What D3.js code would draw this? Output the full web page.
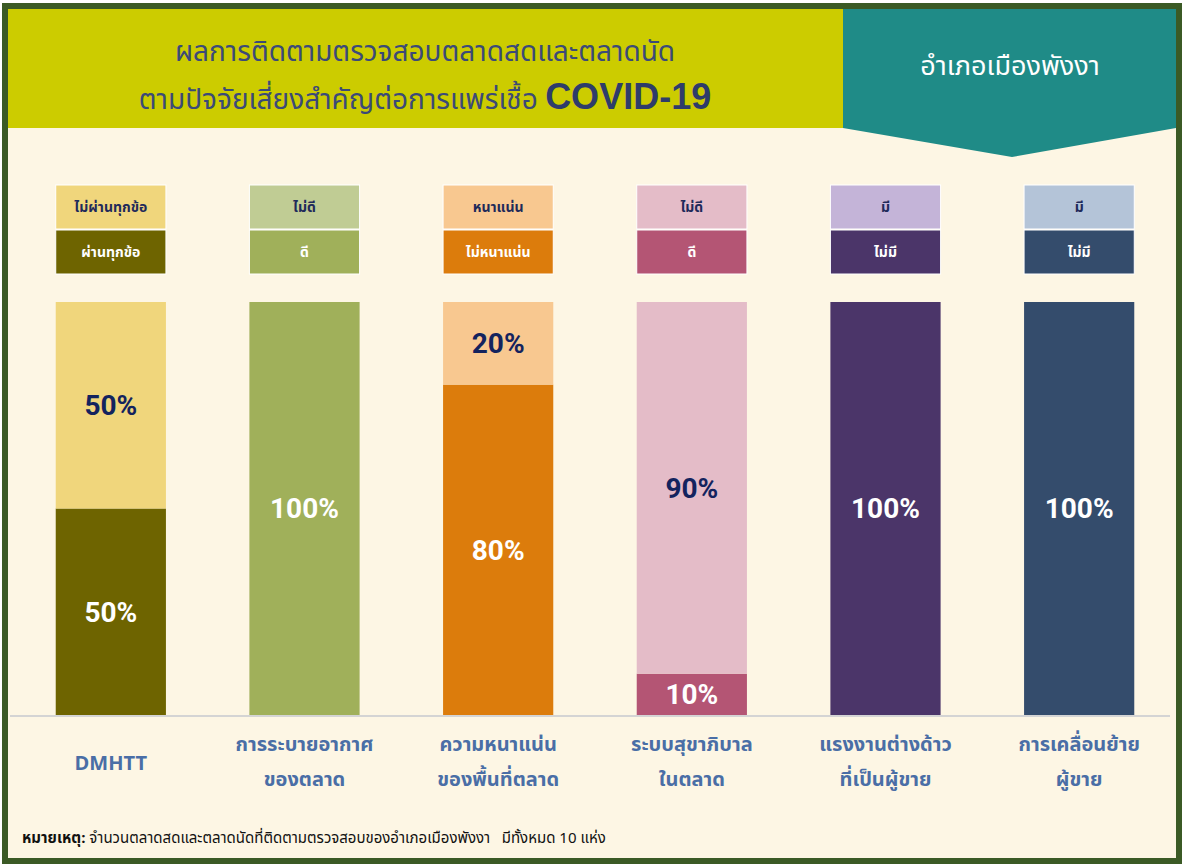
<!DOCTYPE html>
<html>
<head>
<meta charset="utf-8">
<script src="https://cdn.jsdelivr.net/npm/d3@7"></script>
<style>
  body { margin: 0; background: #ffffff; }
  svg { display: block; }
  text { white-space: pre; }
</style>
</head>
<body>
<div class="chart"></div>
<script>
var svgWidth = 1184;
var svgHeight = 866;

// categories (two lines each)
var categories = ["DMHTT", "การระบายอากาศ", "ความหนาแน่น", "ระบบสุขาภิบาล", "แรงงานต่างด้าว", "การเคลื่อนย้าย"];
var categoryLines = [["DMHTT"], ["การระบายอากาศ", "ของตลาด"], ["ความหนาแน่น", "ของพื้นที่ตลาด"],
  ["ระบบสุขาภิบาล", "ในตลาด"], ["แรงงานต่างด้าว", "ที่เป็นผู้ขาย"], ["การเคลื่อนย้าย", "ผู้ขาย"]];

// bottom (dark) segment and top (light) segment, percent
var bottomValues = [50, 100, 80, 10, 100, 100];
var topValues = [50, 0, 20, 90, 0, 0];

// legend labels
var bottomNames = ["ผ่านทุกข้อ", "ดี", "ไม่หนาแน่น", "ดี", "ไม่มี", "ไม่มี"];
var topNames = ["ไม่ผ่านทุกข้อ", "ไม่ดี", "หนาแน่น", "ไม่ดี", "มี", "มี"];

var darkColors = ["#6e6400", "#a0b05a", "#dc7c0c", "#b45574", "#4b3569", "#344c6c"];
var lightColors = ["#f0d67c", "#c0cc94", "#f8c890", "#e4bcc8", "#c4b4d8", "#b4c4d8"];

var thaiFont = "'Noto Sans Thai', 'Noto Sans', 'DejaVu Sans', sans-serif";
var numFont = "'Liberation Sans Narrow', 'Roboto', sans-serif";

var svg = d3.select(".chart")
  .append("svg")
  .attr("width", svgWidth)
  .attr("height", svgHeight);

// frame
svg.append("rect")
  .attr("x", 0).attr("y", 0)
  .attr("width", svgWidth).attr("height", svgHeight)
  .attr("fill", "#ffffff");
svg.append("rect")
  .attr("x", 5).attr("y", 6)
  .attr("width", 1174).attr("height", 855)
  .attr("fill", "#fdf6e4")
  .attr("stroke", "#3b5a25")
  .attr("stroke-width", 6);

// title banner
svg.append("rect")
  .attr("x", 8).attr("y", 9)
  .attr("width", 836).attr("height", 119)
  .attr("fill", "#cccc00");
svg.append("path")
  .attr("d", "M843,9 L1176,9 L1176,128 L1012,157 L843,128 Z")
  .attr("fill", "#1f8b87");

svg.append("text")
  .attr("x", 425).attr("y", 61)
  .attr("text-anchor", "middle")
  .style("font-family", thaiFont)
  .style("font-size", "28px")
  .style("fill", "#3b4a78")
  .text("ผลการติดตามตรวจสอบตลาดสดและตลาดนัด");

var t2 = svg.append("text")
  .attr("x", 425).attr("y", 109)
  .attr("text-anchor", "middle")
  .style("font-family", thaiFont)
  .style("font-size", "28px")
  .style("fill", "#3b4a78");
t2.append("tspan").text("ตามปัจจัยเสี่ยงสำคัญต่อการแพร่เชื้อ ");
t2.append("tspan")
  .style("font-family", "'Liberation Sans', Arial, sans-serif")
  .style("font-weight", "bold")
  .style("font-size", "36px")
  .style("fill", "#2e3c6a")
  .text("COVID-19");

svg.append("text")
  .attr("x", 1010).attr("y", 75)
  .attr("text-anchor", "middle")
  .style("font-family", thaiFont)
  .style("font-size", "27px")
  .style("fill", "#ffffff")
  .text("อำเภอเมืองพังงา");

// scales
var x = d3.scaleBand()
  .domain(categories)
  .range([17, 1173])
  .paddingInner(0.431)
  .paddingOuter(0.2);

var y = d3.scaleLinear()
  .domain([0, 100])
  .range([715, 302]);

var data = categories.map(function(c, i) {
  return { cat: c, lo: bottomValues[i], hi: topValues[i], i: i };
});

var chartGroup = svg.append("g");

// bottom segments
chartGroup.selectAll(".bar-lo")
  .data(data)
  .enter()
  .append("rect")
  .attr("class", "bar-lo")
  .attr("x", d => x(d.cat))
  .attr("width", x.bandwidth())
  .attr("y", d => y(d.lo))
  .attr("height", d => y(0) - y(d.lo))
  .attr("fill", d => darkColors[d.i]);

// top segments
chartGroup.selectAll(".bar-hi")
  .data(data.filter(d => d.hi > 0))
  .enter()
  .append("rect")
  .attr("class", "bar-hi")
  .attr("x", d => x(d.cat))
  .attr("width", x.bandwidth())
  .attr("y", d => y(d.lo + d.hi))
  .attr("height", d => y(d.lo) - y(d.lo + d.hi))
  .attr("fill", d => lightColors[d.i]);

// value labels
chartGroup.selectAll(".lbl-lo")
  .data(data)
  .enter()
  .append("text")
  .attr("x", d => x(d.cat) + x.bandwidth() / 2)
  .attr("y", d => (y(0) + y(d.lo)) / 2)
  .attr("dy", "0.35em")
  .attr("text-anchor", "middle")
  .style("font-family", numFont)
  .style("font-weight", "bold")
  .style("font-size", "28px")
  .style("fill", "#ffffff")
  .text(d => d.lo + "%");

chartGroup.selectAll(".lbl-hi")
  .data(data.filter(d => d.hi > 0))
  .enter()
  .append("text")
  .attr("x", d => x(d.cat) + x.bandwidth() / 2)
  .attr("y", d => (y(d.lo) + y(d.lo + d.hi)) / 2)
  .attr("dy", "0.35em")
  .attr("text-anchor", "middle")
  .style("font-family", numFont)
  .style("font-weight", "bold")
  .style("font-size", "28px")
  .style("fill", "#13235e")
  .text(d => d.hi + "%");

// baseline
svg.append("line")
  .attr("x1", 10).attr("x2", 1170)
  .attr("y1", y(0) + 1).attr("y2", y(0) + 1)
  .attr("stroke", "#d4d4d4")
  .attr("stroke-width", 2);

// legend boxes above each bar
var legend = svg.append("g");
legend.selectAll(".leg-top")
  .data(data)
  .enter()
  .append("rect")
  .attr("x", d => x(d.cat))
  .attr("y", 185)
  .attr("width", x.bandwidth())
  .attr("height", 44)
  .attr("fill", d => lightColors[d.i])
  .attr("stroke", "#ffffff")
  .attr("stroke-width", 1);
legend.selectAll(".leg-bot")
  .data(data)
  .enter()
  .append("rect")
  .attr("x", d => x(d.cat))
  .attr("y", 230)
  .attr("width", x.bandwidth())
  .attr("height", 44)
  .attr("fill", d => darkColors[d.i])
  .attr("stroke", "#ffffff")
  .attr("stroke-width", 1);
legend.selectAll(".leg-top-t")
  .data(data)
  .enter()
  .append("text")
  .attr("x", d => x(d.cat) + x.bandwidth() / 2)
  .attr("y", 207)
  .attr("dy", "0.35em")
  .attr("text-anchor", "middle")
  .style("font-family", thaiFont)
  .style("font-weight", "bold")
  .style("font-size", "14px")
  .style("fill", "#1f2a5a")
  .text(d => topNames[d.i]);
legend.selectAll(".leg-bot-t")
  .data(data)
  .enter()
  .append("text")
  .attr("x", d => x(d.cat) + x.bandwidth() / 2)
  .attr("y", 252)
  .attr("dy", "0.35em")
  .attr("text-anchor", "middle")
  .style("font-family", thaiFont)
  .style("font-weight", "bold")
  .style("font-size", "14px")
  .style("fill", "#ffffff")
  .text(d => bottomNames[d.i]);

// category labels
var catLabels = svg.append("g").selectAll("text")
  .data(data)
  .enter()
  .append("text")
  .attr("text-anchor", "middle")
  .style("font-family", thaiFont)
  .style("font-weight", "bold")
  .style("font-size", "20px")
  .style("fill", "#4a6ea6");
catLabels.each(function(d) {
  var lines = categoryLines[d.i];
  var cx = x(d.cat) + x.bandwidth() / 2;
  var sel = d3.select(this);
  if (lines.length === 1) {
    sel.append("tspan").attr("x", cx).attr("y", 770).text(lines[0]);
  } else {
    sel.append("tspan").attr("x", cx).attr("y", 751).text(lines[0]);
    sel.append("tspan").attr("x", cx).attr("y", 786).text(lines[1]);
  }
});

// footnote
var note = svg.append("text")
  .attr("x", 22).attr("y", 843)
  .style("font-family", thaiFont)
  .style("font-size", "15px")
  .style("fill", "#111111");
note.append("tspan").style("font-weight", "bold").text("หมายเหตุ:");
note.append("tspan").text(" จำนวนตลาดสดและตลาดนัดที่ติดตามตรวจสอบของอำเภอเมืองพังงา   มีทั้งหมด 10 แห่ง");
</script>
</body>
</html>
